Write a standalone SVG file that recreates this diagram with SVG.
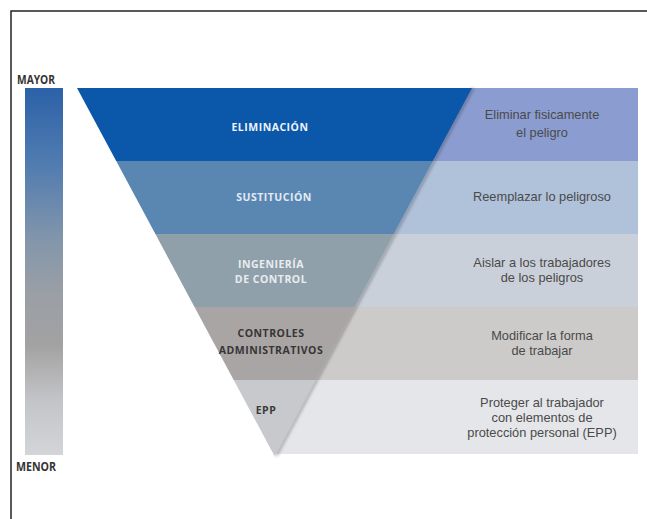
<svg xmlns="http://www.w3.org/2000/svg" width="647" height="519" viewBox="0 0 647 519">
<defs>
<linearGradient id="scale" x1="0" y1="0" x2="0" y2="1">
<stop offset="0" stop-color="#2c61a8"/>
<stop offset="0.2" stop-color="#4f7bb0"/>
<stop offset="0.42" stop-color="#8496ab"/>
<stop offset="0.56" stop-color="#9a9fa6"/>
<stop offset="0.7" stop-color="#a3a2a2"/>
<stop offset="0.85" stop-color="#c3c4c7"/>
<stop offset="1" stop-color="#d4d5d8"/>
</linearGradient>
<filter id="blur" x="-0.5" y="-0.1" width="2" height="1.2"><feGaussianBlur stdDeviation="1.5"/></filter>
</defs>
<style>
.lvl{font-family:"Open Sans","DejaVu Sans",sans-serif;font-weight:bold;font-size:10.5px;letter-spacing:0.5px;text-anchor:middle}
.desc{font-family:"Liberation Sans",Arial,sans-serif;font-size:12.8px;fill:#4a4a4a;text-anchor:middle}
.axis{font-family:"Open Sans","DejaVu Sans",sans-serif;font-weight:bold;font-size:12px;fill:#333}
</style>
<rect width="647" height="519" fill="#fff"/>
<polyline points="11,519 11,11 647,11" fill="none" stroke="#222" stroke-width="1.5"/>
<g id="scale-bar">
<rect x="25" y="88" width="38" height="367" fill="url(#scale)"/>
<text class="axis" x="17" y="84" textLength="38" lengthAdjust="spacingAndGlyphs">MAYOR</text>
<text class="axis" x="16" y="471" textLength="40" lengthAdjust="spacingAndGlyphs">MENOR</text>
</g>
<g id="panels">
<rect x="300" y="88" width="338" height="73" fill="#8b9dd0"/>
<rect x="300" y="161" width="338" height="73" fill="#b0c1da"/>
<rect x="300" y="234" width="338" height="73" fill="#cad0d9"/>
<rect x="290" y="307" width="348" height="73" fill="#cdcaca"/>
<rect x="275" y="380" width="363" height="74" fill="#e5e6e9"/>
</g>
<line x1="473" y1="88" x2="276" y2="456" stroke="#000" stroke-opacity="0.25" stroke-width="3" filter="url(#blur)"/>
<g id="eliminacion">
<polygon points="77,88 472,88 432.8,161 116.2,161" fill="#0b57a9"/>
<text class="lvl" x="270" y="131" fill="#eef2f9">ELIMINACIÓN</text>
<text class="desc" x="542" y="119">Eliminar fisicamente</text>
<text class="desc" x="542" y="137">el peligro</text>
</g>
<g id="sustitucion">
<polygon points="116.2,161 432.8,161 393.6,234 155.4,234" fill="#5a87b2"/>
<text class="lvl" x="274" y="201" fill="#e3eaf2">SUSTITUCIÓN</text>
<text class="desc" x="542" y="201">Reemplazar lo peligroso</text>
</g>
<g id="ingenieria">
<polygon points="155.4,234 393.6,234 354.5,307 194.5,307" fill="#8fa0ab"/>
<text class="lvl" x="271" y="268" fill="#e9ecef">INGENIERÍA</text>
<text class="lvl" x="271" y="283" fill="#e9ecef">DE CONTROL</text>
<text class="desc" x="542" y="267">Aislar a los trabajadores</text>
<text class="desc" x="542" y="282">de los peligros</text>
</g>
<g id="administrativos">
<polygon points="194.5,307 354.5,307 315.3,380 233.7,380" fill="#a9a5a4"/>
<text class="lvl" x="271" y="337" fill="#363636">CONTROLES</text>
<text class="lvl" x="271" y="354" fill="#363636">ADMINISTRATIVOS</text>
<text class="desc" x="542" y="340">Modificar la forma</text>
<text class="desc" x="542" y="355">de trabajar</text>
</g>
<g id="epp">
<polygon points="233.7,380 315.3,380 274.5,456" fill="#c8c9cc"/>
<text class="lvl" x="266" y="414" fill="#3a3a3a">EPP</text>
<text class="desc" x="542" y="407">Proteger al trabajador</text>
<text class="desc" x="542" y="422">con elementos de</text>
<text class="desc" x="542" y="437">protección personal (EPP)</text>
</g>
</svg>
